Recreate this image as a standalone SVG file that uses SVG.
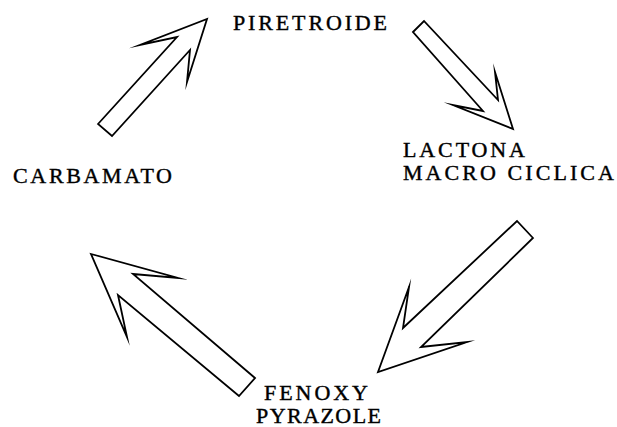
<svg xmlns="http://www.w3.org/2000/svg" width="617" height="427" viewBox="0 0 617 427">
<style>
.arrow{fill:#fff;stroke:#000;stroke-width:1.8;stroke-linejoin:miter;stroke-miterlimit:20}
.lbl{font-family:"Liberation Serif","DejaVu Serif",serif;font-size:22px;fill:#000;stroke:#000;stroke-width:0.4}
</style>
<rect width="617" height="427" fill="#fff"/>
<g id="connectors">
<polygon class="arrow" points="98,124 177,37 140,45 207,19 187,82 190,50 112,136"/>
<polygon class="arrow" points="413,32 424,21 498,100 495,72 513,129 453,105 483,111"/>
<polygon class="arrow" points="533,238 517,221 403,328 409,287 378,372 467,342 421,347"/>
<polygon class="arrow" points="255,378 133,274 178,278 91,254 127,337 118,295 239,396"/>
</g>
<g id="piretroide"><text class="lbl" x="233" y="30" textLength="154" lengthAdjust="spacing">PIRETROIDE</text></g>
<g id="lactona"><text class="lbl" x="403" y="157" textLength="122" lengthAdjust="spacing">LACTONA</text>
<text class="lbl" x="403" y="180" textLength="211" lengthAdjust="spacing">MACRO CICLICA</text></g>
<g id="carbamato"><text class="lbl" x="13" y="183" textLength="159" lengthAdjust="spacing">CARBAMATO</text></g>
<g id="fenoxy"><text class="lbl" x="264" y="400" textLength="104" lengthAdjust="spacing">FENOXY</text>
<text class="lbl" x="256" y="423" textLength="125" lengthAdjust="spacing">PYRAZOLE</text></g>
</svg>
